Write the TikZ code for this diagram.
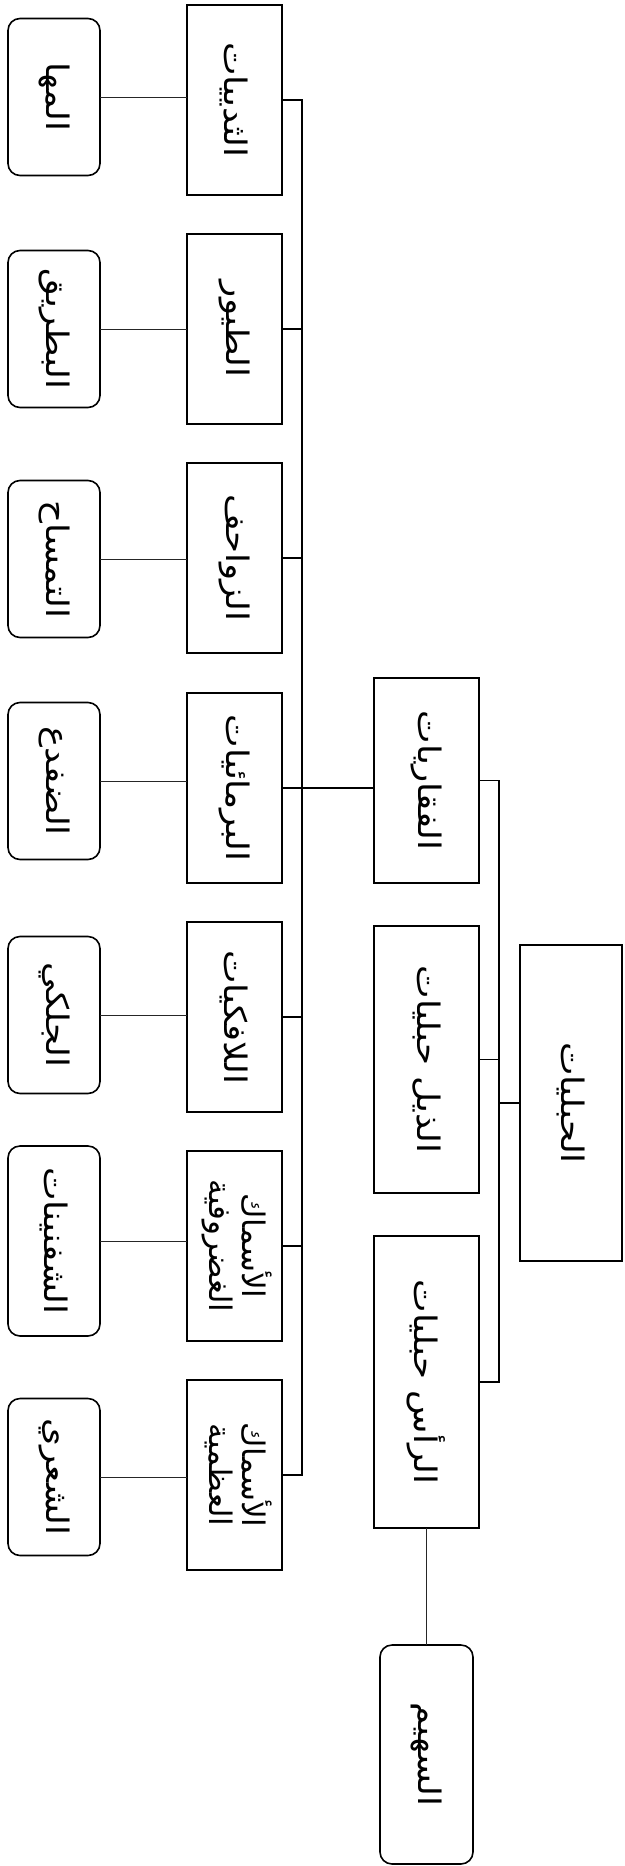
\documentclass[tikz,border=0pt]{standalone}
\usepackage{fontspec}
\usepackage{graphicx}
\newfontfamily\arabicfont[Script=Arabic]{DejaVu Sans}
\TeXXeTstate=1
\newcommand{\artext}[1]{\rotatebox{-90}{\scalebox{1.15}[1]{\beginR #1\endR}}}
\newcommand{\artwo}[2]{\rotatebox{-90}{\begin{tabular}{@{}c@{}}\beginR #1\endR\\[-7pt]\beginR #2\endR\end{tabular}}}
\tikzset{
  lbl/.style={font=\arabicfont\fontsize{31}{40}\selectfont, inner sep=0pt, outer sep=0pt},
  cls/.style={lbl, draw, line width=2pt, minimum width=95pt, minimum height=190pt},
  leaf/.style={lbl, draw, line width=1.6pt, rounded corners=12pt, minimum width=92pt, minimum height=157pt},
  grp/.style={lbl, draw, line width=2pt, minimum width=105pt},
  trunkline/.style={line width=2pt},
  lvlline/.style={line width=1.6pt},
  thinline/.style={line width=1pt, draw=black!85},
}
\begin{document}
\begin{tikzpicture}[x=1pt, y=-1pt]
\useasboundingbox (0,0) rectangle (624,1866);
% second level classes
\node[cls] (c1) at (234.5,100) {\artext{الثدييات}};
\node[cls] (c2) at (234.5,329) {\artext{الطيور}};
\node[cls] (c3) at (234.5,558) {\artext{الزواحف}};
\node[cls] (c4) at (234.5,788) {\artext{البرمائيات}};
\node[cls] (c5) at (234.5,1017) {\artext{اللافكيات}};
\node[cls] (c6) at (234.5,1246) {\artwo{الأسماك}{الغضروفية}};
\node[cls] (c7) at (234.5,1475) {\artwo{الأسماك}{العظمية}};
% leaves
\node[leaf] (l1) at (54,97) {\artext{المها}};
\node[leaf] (l2) at (54,329) {\artext{البطريق}};
\node[leaf] (l3) at (54,559) {\artext{التمساح}};
\node[leaf] (l4) at (54,781) {\artext{الضفدع}};
\node[leaf] (l5) at (54,1015) {\artext{الجلكي}};
\node[leaf, minimum height=190pt] (l6) at (54,1241) {\artext{الشفنينات}};
\node[leaf] (l7) at (54,1477) {\artext{الشعري}};
% first level
\node[grp, minimum height=205pt] (g1) at (426.5,780.5) {\artext{الفقاريات}};
\node[grp, minimum height=267pt] (g2) at (426.5,1059.5) {\artext{الذيل حبليات}};
\node[grp, minimum height=292pt] (g3) at (426.5,1382) {\artext{الرأس حبليات}};
\node[grp, minimum width=102pt, minimum height=316pt] (root) at (571,1103) {\artext{الحبليات}};
\node[leaf, minimum width=93pt, minimum height=219pt] (s) at (426.5,1754.5) {\artext{السهيم}};
% connectors
\coordinate (tk) at (302,0);
\coordinate (v2) at (499,0);
\draw[trunkline] (c1.east) -- (c1.east -| tk) -- (c7.east -| tk) -- (c7.east);
\foreach \i in {2,...,6} {\draw[trunkline] (c\i.east) -- (c\i.east -| tk);}
\draw[trunkline] (c4.east -| tk) -- (c4.east -| g1.west);
\draw[lvlline] (g1.east) -- (g1.east -| v2) -- (g3.east -| v2) -- (g3.east);
\draw[lvlline] (g2.east) -- (g2.east -| v2);
\draw[lvlline] (root.west -| v2) -- (root.west);
\foreach \i in {1,...,7} {\draw[thinline] (l\i.east) -- (l\i.east -| c\i.west);}
\draw[thinline] (g3.south) -- (s.north);
\end{tikzpicture}
\end{document}
